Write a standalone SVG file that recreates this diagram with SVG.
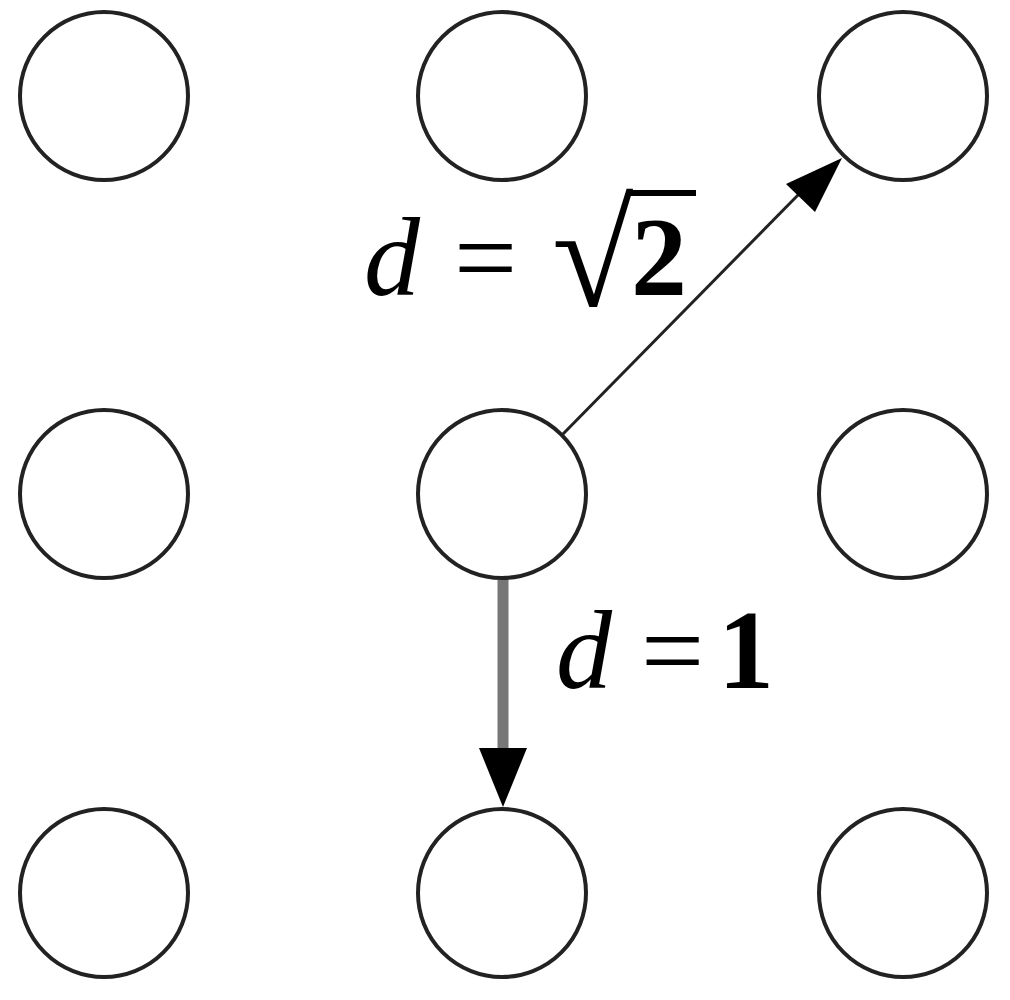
<svg xmlns="http://www.w3.org/2000/svg" width="1010" height="1000" viewBox="0 0 1010 1000">
<style>
.node{fill:#fff;stroke:#222;stroke-width:4}
.lbl{font-family:"Liberation Serif","DejaVu Serif",serif;font-size:112px;fill:#000}
.it{font-style:italic}
</style>
<rect width="1010" height="1000" fill="#fff"/>
<g id="n00"><circle class="node" cx="104" cy="96" r="84"/></g>
<g id="n01"><circle class="node" cx="502" cy="96" r="84"/></g>
<g id="n02"><circle class="node" cx="903" cy="96" r="84"/></g>
<g id="n10"><circle class="node" cx="104" cy="494" r="84"/></g>
<g id="n11"><circle class="node" cx="502" cy="494" r="84"/></g>
<g id="n12"><circle class="node" cx="903" cy="494" r="84"/></g>
<g id="n20"><circle class="node" cx="104" cy="893" r="84"/></g>
<g id="n21"><circle class="node" cx="502" cy="893" r="84"/></g>
<g id="n22"><circle class="node" cx="903" cy="893" r="84"/></g>
<g id="connectors">
<line x1="503" y1="580" x2="503" y2="748" stroke="#777" stroke-width="11"/>
<polygon points="479,748 527,748 503,807" fill="#000"/>
<line x1="563" y1="434" x2="800" y2="193" stroke="#222" stroke-width="3"/>
<polygon points="786,184 815,212 842,158" fill="#000"/>
</g>
<g id="labels">
<text class="lbl it" x="364" y="295">d</text>
<text class="lbl" x="454" y="295">=</text>
<text class="lbl" x="552" y="306" style="font-size:148px">√</text>
<rect x="626" y="190" width="70" height="6" fill="#000"/>
<text class="lbl" x="631" y="295" style="font-weight:bold">2</text>
<text class="lbl it" x="556" y="688">d</text>
<text class="lbl" x="641" y="688">=</text>
<text class="lbl" x="718" y="688" style="font-weight:bold">1</text>
</g>
</svg>
